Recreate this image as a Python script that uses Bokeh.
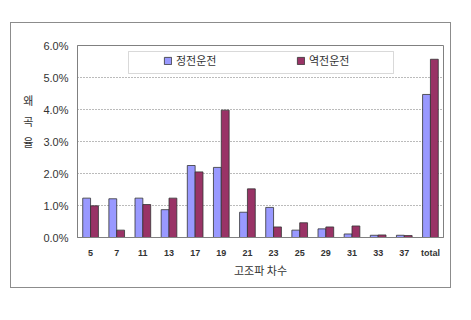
from bokeh.plotting import figure
from bokeh.models import (ColumnDataSource, NumeralTickFormatter, FixedTicker, Legend, LegendItem,
                          BoxAnnotation, Range1d)
from bokeh.transform import dodge
from bokeh.embed import file_html
from bokeh.resources import INLINE

orders = ["5", "7", "11", "13", "17", "19", "21", "23", "25", "29", "31", "33", "37", "total"]
forward = [1.23, 1.21, 1.23, 0.87, 2.25, 2.19, 0.79, 0.94, 0.23, 0.27, 0.11, 0.07, 0.07, 4.47]
reverse = [0.99, 0.23, 1.03, 1.23, 2.05, 3.98, 1.52, 0.33, 0.46, 0.33, 0.36, 0.08, 0.06, 5.57]
series_names = ["정전운전", "역전운전"]
y_ticks = [0, 1, 2, 3, 4, 5, 6]
y_title = "왜\n곡\n율\n\n"

src = ColumnDataSource(dict(x=orders, a=[v / 100 for v in forward], b=[v / 100 for v in reverse]))

p = figure(width=441, height=266, x_range=orders, y_range=Range1d(0, 0.06),
           output_backend="svg", toolbar_location=None,
           min_border_left=66, min_border_right=9, min_border_top=22, min_border_bottom=52)
p.margin = (22, 0, 0, 10)
p.styles = {"border": "1px solid #8c8c8c"}
p.background_fill_color = "white"
p.border_fill_color = "white"
p.outline_line_color = "#808080"
p.outline_line_width = 1

ra = p.vbar(x=dodge("x", -0.15, range=p.x_range), top="a", width=0.3, source=src,
            fill_color="#9999FF", line_color="#333333", line_width=0.8)
rb = p.vbar(x=dodge("x", 0.15, range=p.x_range), top="b", width=0.3, source=src,
            fill_color="#993366", line_color="#333333", line_width=0.8)

p.xgrid.grid_line_color = None
p.ygrid.grid_line_color = "#777777"
p.ygrid.grid_line_dash = "1 2"
p.ygrid.ticker = FixedTicker(ticks=[t / 100 for t in y_ticks[1:-1]])

p.yaxis.ticker = FixedTicker(ticks=[t / 100 for t in y_ticks])
p.yaxis.formatter = NumeralTickFormatter(format="0.0%")
p.yaxis.major_label_text_font = "Liberation Sans"
p.yaxis.major_label_text_font_size = "11px"
p.yaxis.major_label_text_color = "#333333"
p.yaxis.axis_line_color = "#808080"
p.yaxis.major_tick_line_color = None
p.yaxis.major_tick_out = 0
p.yaxis.minor_tick_line_color = None
p.yaxis.major_label_standoff = 9
p.yaxis.axis_label = y_title
p.yaxis.axis_label_orientation = "horizontal"
p.yaxis.axis_label_text_font = "Noto Sans CJK KR"
p.yaxis.axis_label_text_font_style = "normal"
p.yaxis.axis_label_text_font_size = "11px"
p.yaxis.axis_label_text_color = "#333333"
p.yaxis.axis_label_text_line_height = 1.3
p.yaxis.axis_label_standoff = 7

p.xaxis.axis_line_color = "#808080"
p.xaxis.major_tick_line_color = None
p.xaxis.major_tick_out = 0
p.xaxis.major_label_text_font = "Liberation Sans"
p.xaxis.major_label_text_font_style = "bold"
p.xaxis.major_label_text_font_size = "9px"
p.xaxis.major_label_text_color = "#333333"
p.xaxis.major_label_standoff = 10
p.xaxis.axis_label = "고조파 차수"
p.xaxis.axis_label_text_font = "Noto Sans CJK KR"
p.xaxis.axis_label_text_font_style = "normal"
p.xaxis.axis_label_text_font_size = "11px"
p.xaxis.axis_label_text_color = "#333333"
p.xaxis.axis_label_standoff = 1

legend = Legend(items=[LegendItem(label=series_names[0], renderers=[ra]),
                       LegendItem(label=series_names[1], renderers=[rb])],
                orientation="horizontal", location=(86, 169),
                label_text_font="Noto Sans CJK KR", label_text_font_size="11px",
                label_text_color="#333333",
                glyph_width=9, glyph_height=9, spacing=40, padding=2, label_width=80,
                margin=0, border_line_color=None, background_fill_alpha=0, label_standoff=4)
p.add_layout(legend)

# legend frame (decoration; screen units are frame-relative, y upward)
lbox = BoxAnnotation(left=51, right=316, top=186, bottom=164,
                     left_units="screen", right_units="screen", top_units="screen", bottom_units="screen",
                     fill_color="white", fill_alpha=1, line_color="#808080", line_width=1, level="underlay")
p.add_layout(lbox)

open("out.html", "w").write(file_html(p, INLINE))
